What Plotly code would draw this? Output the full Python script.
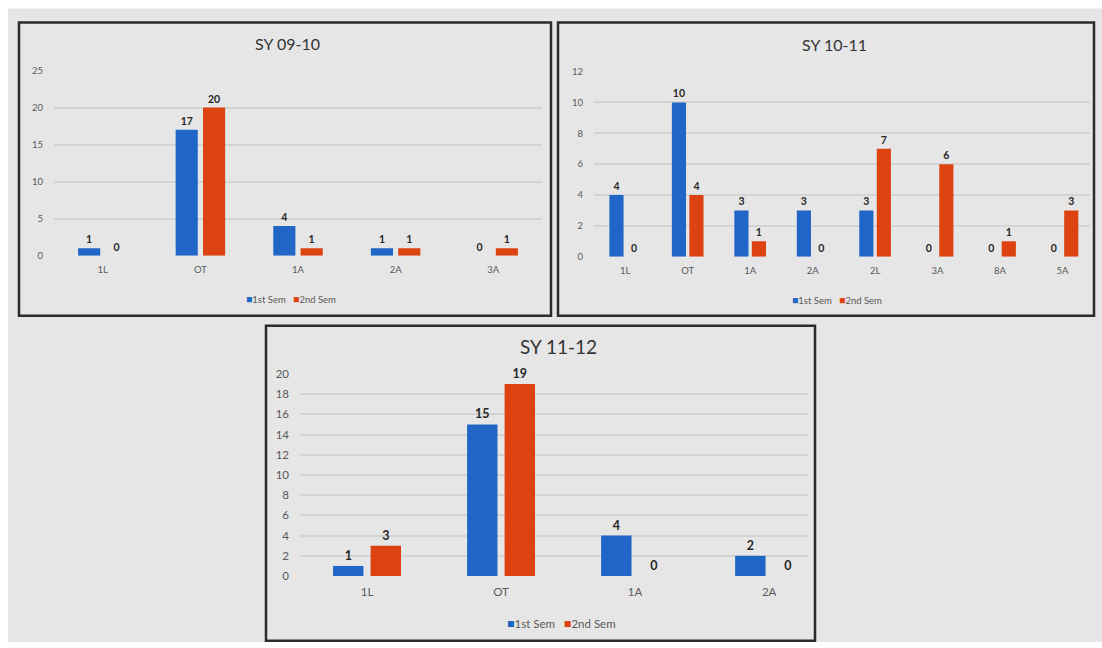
import plotly.graph_objects as go

W, H = 1102, 648

# ---- data -------------------------------------------------------------
cats_0910 = ["1L", "OT", "1A", "2A", "3A"]
sem1_0910 = [1, 17, 4, 1, 0]
sem2_0910 = [0, 20, 1, 1, 1]

cats_1011 = ["1L", "OT", "1A", "2A", "2L", "3A", "8A", "5A"]
sem1_1011 = [4, 10, 3, 3, 3, 0, 0, 0]
sem2_1011 = [0, 4, 1, 0, 7, 6, 1, 3]

cats_1112 = ["1L", "OT", "1A", "2A"]
sem1_1112 = [1, 15, 4, 2]
sem2_1112 = [3, 19, 0, 0]

titles = ["SY 09-10", "SY 10-11", "SY 11-12"]
series_names = ["1st Sem", "2nd Sem"]

BLUE = "#1f66c6"
ORANGE = "#dc4310"
BG = "#e6e6e6"
GRID = "#d4d4d4"
FONT = "Lato, 'Noto Sans', sans-serif"


def px_x(v):
    return v / W


def px_y(v):
    return 1 - v / H


# panel layout in pixels (from the top-left corner of the figure):
# plot-area x span, y span (bottom, top), axis ranges, tick step,
# border box, title centre, legend centre, font sizes
panels = [
    dict(cats=cats_0910, s1=sem1_0910, s2=sem2_0910, title=titles[0],
         xdom=(54, 542), ydom=(253.8, 64.9), xr=(-0.5, 4.5), yr=(0, 25), dt=5,
         box=(19, 15.8, 551, 315.1), tpos=(287, 37.5), lpos=(291, 297.8),
         tsize=16, fsize=9.5, lsize=10.5),
    dict(cats=cats_1011, s1=sem1_1011, s2=sem2_1011, title=titles[1],
         xdom=(594, 1090), ydom=(254.8, 65.9), xr=(-0.5, 7.44), yr=(0, 12), dt=2,
         box=(558, 15.8, 1094, 315.1), tpos=(834, 38.5), lpos=(837, 298.8),
         tsize=16, fsize=9.5, lsize=10.5),
    dict(cats=cats_1112, s1=sem1_1112, s2=sem2_1112, title=titles[2],
         xdom=(300, 808), ydom=(580.7, 374.4), xr=(-0.5, 3.29), yr=(0, 20), dt=2,
         box=(266, 325.3, 815, 646.8), tpos=(558, 346.8), lpos=(561, 629.5),
         tsize=19, fsize=11.5, lsize=12.5),
]

fig = go.Figure()
shapes = [
    # grey backdrop behind the three charts
    dict(type="rect", xref="paper", yref="paper", x0=px_x(8), x1=1, y0=0, y1=px_y(1.5),
         fillcolor=BG, line=dict(width=0), layer="below"),
]
annotations = []

for i, p in enumerate(panels, start=1):
    xa = "x" if i == 1 else f"x{i}"
    ya = "y" if i == 1 else f"y{i}"
    for name, vals, col in ((series_names[0], p["s1"], BLUE), (series_names[1], p["s2"], ORANGE)):
        fig.add_trace(go.Bar(
            x=p["cats"], y=vals, name=name, marker=dict(color=col, line=dict(width=0)),
            xaxis=xa, yaxis=ya, showlegend=False,
            texttemplate="<b>%{y}</b>", textposition="outside", cliponaxis=False,
            textfont=dict(size=p["lsize"], color="#262626", family=FONT),
        ))
    axis_x = dict(
        domain=[px_x(p["xdom"][0]), px_x(p["xdom"][1])], anchor=ya,
        range=list(p["xr"]), showgrid=False, zeroline=False, showline=False,
        ticks="", tickfont=dict(size=p["fsize"], color="#595959", family=FONT),
        ticklabelstandoff=7, fixedrange=True,
    )
    axis_y = dict(
        domain=[px_y(p["ydom"][0]), px_y(p["ydom"][1])], anchor=xa,
        range=list(p["yr"]), dtick=p["dt"], tick0=0, showgrid=True, gridcolor=GRID,
        gridwidth=1.5, zeroline=False, showline=False, ticks="",
        tickfont=dict(size=p["fsize"], color="#595959", family=FONT),
        ticklabelstandoff=10, fixedrange=True,
    )
    fig.update_layout(**{("xaxis" if i == 1 else f"xaxis{i}"): axis_x,
                         ("yaxis" if i == 1 else f"yaxis{i}"): axis_y})

    x0, y0, x1, y1 = p["box"]
    shapes.append(dict(type="rect", xref="paper", yref="paper",
                       x0=px_x(x0), x1=px_x(x1), y0=px_y(y1), y1=px_y(y0),
                       line=dict(color="#2b2b2b", width=2.5), fillcolor="rgba(0,0,0,0)"))
    annotations.append(dict(
        text=p["title"], xref="paper", yref="paper", x=px_x(p["tpos"][0]), y=px_y(p["tpos"][1]),
        xanchor="center", yanchor="middle", showarrow=False,
        font=dict(size=p["tsize"], color="#333333", family=FONT)))
    sq = p["fsize"] + 1
    legend_text = (
        f"<span style='color:{BLUE};font-size:{sq}px'>■</span>{series_names[0]}"
        f"   <span style='color:{ORANGE};font-size:{sq}px'>■</span>{series_names[1]}"
    )
    annotations.append(dict(
        text=legend_text, xref="paper", yref="paper", x=px_x(p["lpos"][0]), y=px_y(p["lpos"][1]),
        xanchor="center", yanchor="middle", showarrow=False,
        font=dict(size=p["fsize"], color="#595959", family=FONT)))

fig.update_layout(
    width=W, height=H, margin=dict(l=0, r=0, t=0, b=0), autosize=False,
    paper_bgcolor="white", plot_bgcolor="rgba(0,0,0,0)",
    barmode="group", bargap=0.44, bargroupgap=0.19,
    shapes=shapes, annotations=annotations, font=dict(family=FONT),
)

fig.write_html("out.html", config={"displayModeBar": False})
